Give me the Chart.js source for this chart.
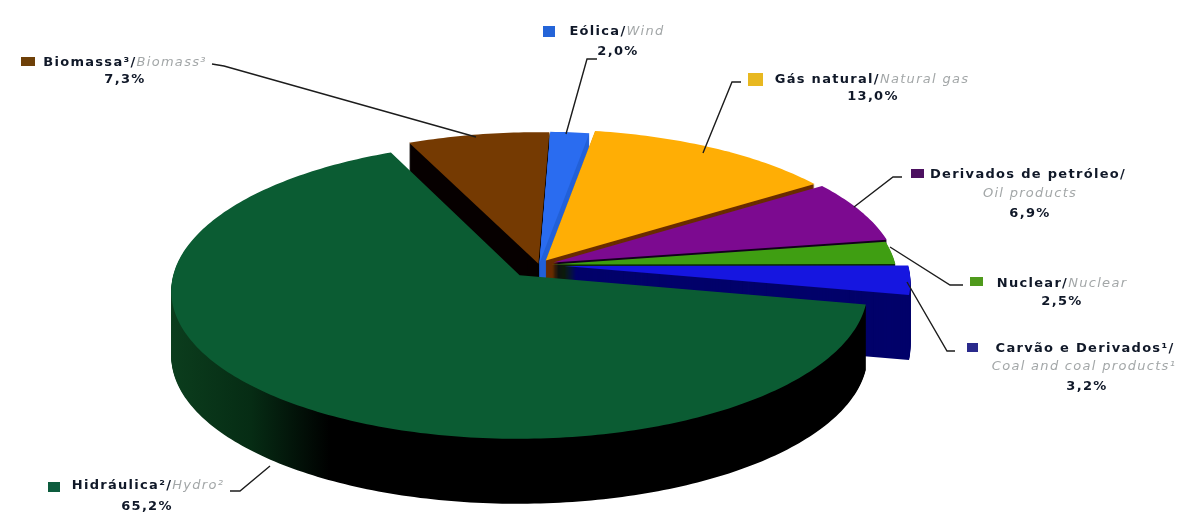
<!DOCTYPE html>
<html lang="pt">
<head>
<meta charset="utf-8">
<title>Matriz elétrica</title>
<style>
  html, body { margin: 0; background: #fff; }
  #wrap { position: relative; width: 1184px; height: 512px; overflow: hidden; }
  #pie { position: absolute; left: 0; top: 0; }
  .line {
    position: absolute; white-space: nowrap; transform: translate(-50%, -50%);
    font: bold 13px "DejaVu Sans", sans-serif; letter-spacing: 1.3px; color: #101828; line-height: 1;
  }
  .line em { font-weight: normal; font-style: oblique; color: #a3a7a8; }
  .swatch { position: absolute; }
</style>
</head>
<body>
<div id="wrap"><canvas id="pie" width="1184" height="512"></canvas></div>
<script src="https://cdn.jsdelivr.net/npm/chart.js@4/dist/chart.umd.min.js"></script>
<script>
// Clockwise from north, the order the slices sit around the pie
const categories = ['Eólica/', 'Gás natural/', 'Derivados de petróleo/', 'Nuclear/', 'Carvão e Derivados¹/', 'Hidráulica²/', 'Biomassa³/'];
const englishNames = ['Wind', 'Natural gas', 'Oil products', 'Nuclear', 'Coal and coal products¹', 'Hydro²', 'Biomass³'];
const shares = [2.0, 13.0, 6.9, 2.5, 3.2, 65.2, 7.3];
const shareLabels = ['2,0%', '13,0%', '6,9%', '2,5%', '3,2%', '65,2%', '7,3%'];
const topColors = ['#2a6cf0', '#ffae05', '#7c0a90', '#3f9e12', '#1616e0', '#0b5c33', '#753a02'];
const sideColors = ['#2360d8', '#6a2c00', '#12001c', '#0c2a06', '#02026a', '#000000', '#060000'];
const swatchColors = ['#2464d8', '#e8b820', '#4c1060', '#4f9a1c', '#2a2a8c', '#0d5c3e', '#6e4008'];
const explode = [3, 9, 11, 9, 18, 22, 2];

// Projection of the pie's disc onto the page, with a little perspective
const CX = 539, CY = 265, RX = 344, RY = 145, PERSP = 0.1, DEPTH = 65;
const ROTATION_DEG = 2;
const DRAW_ORDER = [6, 0, 1, 2, 3, 4, 5];

// Label rows: x is the centre of the row, y its middle
const labelRows = [
  [{ i: 0, x: 617, y: 30, name: true, en: true }, { i: 0, x: 618, y: 50, pct: true }],
  [{ i: 1, x: 872, y: 78, name: true, en: true }, { i: 1, x: 873, y: 95, pct: true }],
  [{ i: 2, x: 1028, y: 173, name: true }, { i: 2, x: 1030, y: 192, en: true }, { i: 2, x: 1030, y: 212, pct: true }],
  [{ i: 3, x: 1062, y: 282, name: true, en: true }, { i: 3, x: 1062, y: 300, pct: true }],
  [{ i: 4, x: 1085, y: 347, name: true }, { i: 4, x: 1084, y: 365, en: true }, { i: 4, x: 1087, y: 385, pct: true }],
  [{ i: 5, x: 148, y: 484, name: true, en: true }, { i: 5, x: 147, y: 505, pct: true }],
  [{ i: 6, x: 125, y: 61, name: true, en: true }, { i: 6, x: 125, y: 78, pct: true }],
];
const swatches = [[543, 26, 12, 11], [748, 73, 15, 13], [911, 169, 13, 9], [970, 277, 13, 9], [967, 343, 11, 9], [48, 482, 12, 10], [21, 57, 14, 9]];
const leaders = [
  [[597, 59], [587, 59], [566, 134]],
  [[741, 82], [732, 82], [703, 153]],
  [[902, 177], [893, 177], [854, 207]],
  [[890, 247], [950, 285], [963, 285]],
  [[907, 282], [947, 351], [955, 351]],
  [[230, 491], [240, 491], [270, 466]],
  [[212, 64], [224, 66], [476, 137]],
];

function project(u, v) {
  const s = 1 / (1 - PERSP * v);
  return [CX + RX * u * s, CY + RY * v * s];
}

// Traces one slice on the projected disc, from the arc element's own angles
function sliceOutline(arc) {
  const mid = (arc.startAngle + arc.endAngle) / 2;
  const shift = arc.options.offset / arc.outerRadius;
  const ox = Math.cos(mid) * shift;
  const oy = Math.sin(mid) * shift;
  const pts = [project(ox, oy)];
  const steps = Math.max(4, Math.ceil((arc.endAngle - arc.startAngle) * 60));
  for (let k = 0; k <= steps; k++) {
    const a = arc.startAngle + (arc.endAngle - arc.startAngle) * k / steps;
    pts.push(project(ox + Math.cos(a), oy + Math.sin(a)));
  }
  return pts;
}

function fillOutline(ctx, pts, dy, fill) {
  ctx.beginPath();
  pts.forEach((p, k) => (k ? ctx.lineTo(p[0], p[1] + dy) : ctx.moveTo(p[0], p[1] + dy)));
  ctx.closePath();
  ctx.fillStyle = fill;
  ctx.fill();
}

const pie3d = {
  id: 'pie3d',
  beforeDatasetDraw(chart) {
    const ctx = chart.ctx;
    const arcs = chart.getDatasetMeta(0).data;
    ctx.save();
    DRAW_ORDER.forEach((i) => {
      const pts = sliceOutline(arcs[i]);
      let side = sideColors[i];
      if (i === 5) {
        // the big slice's wall fades from dark green to black going right
        side = ctx.createLinearGradient(172, 0, 330, 0);
        side.addColorStop(0, '#0b3d1d');
        side.addColorStop(0.5, '#062c14');
        side.addColorStop(1, '#000000');
      }
      for (let dy = DEPTH; dy > 0; dy--) fillOutline(ctx, pts, dy, side);
      fillOutline(ctx, pts, 0, topColors[i]);
    });
    ctx.strokeStyle = '#1c1c1c';
    ctx.lineWidth = 1.4;
    leaders.forEach((line) => {
      ctx.beginPath();
      line.forEach((p, k) => (k ? ctx.lineTo(p[0], p[1]) : ctx.moveTo(p[0], p[1])));
      ctx.stroke();
    });
    ctx.restore();
    return false;
  },
};

new Chart(document.getElementById('pie'), {
  type: 'pie',
  data: {
    labels: categories.map((c, i) => c + englishNames[i]),
    datasets: [{ data: shares, backgroundColor: topColors, offset: explode, borderWidth: 0 }],
  },
  options: {
    responsive: false,
    animation: false,
    rotation: ROTATION_DEG,
    plugins: { legend: { display: false }, tooltip: { enabled: false } },
  },
  plugins: [pie3d],
});

const wrap = document.getElementById('wrap');
labelRows.flat().forEach((row) => {
  const el = document.createElement('div');
  el.className = 'line';
  el.style.left = row.x + 'px';
  el.style.top = row.y + 'px';
  if (row.name) el.append(categories[row.i]);
  if (row.en) {
    const em = document.createElement('em');
    em.textContent = englishNames[row.i];
    el.append(em);
  }
  if (row.pct) el.append(shareLabels[row.i]);
  wrap.append(el);
});
swatches.forEach((s, i) => {
  const el = document.createElement('div');
  el.className = 'swatch';
  el.style.cssText = `left:${s[0]}px;top:${s[1]}px;width:${s[2]}px;height:${s[3]}px;background:${swatchColors[i]}`;
  wrap.append(el);
});
</script>
</body>
</html>
